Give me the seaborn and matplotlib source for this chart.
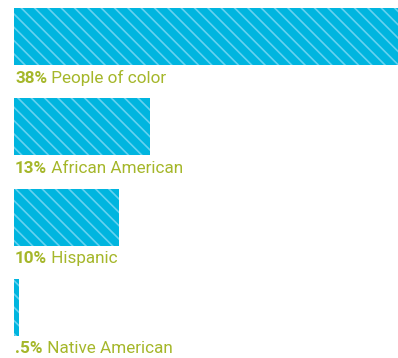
import matplotlib
matplotlib.use("Agg")
import matplotlib.pyplot as plt
import seaborn as sns
import pandas as pd

categories = ["People of color", "African American", "Hispanic", "Native American"]
values = [38, 13, 10, 0.5]
pct_labels = ["38%", "13%", "10%", ".5%"]

sns.set_theme(style="white")
plt.rcParams["font.family"] = ["Roboto", "DejaVu Sans"]
plt.rcParams["hatch.linewidth"] = 1.5

df = pd.DataFrame({"group": categories, "value": values})

DPI = 80
fig = plt.figure(figsize=(398 / DPI, 358 / DPI), dpi=DPI)
ax = fig.add_axes([14 / 398, 0, 384 / 398, 1])

sns.barplot(data=df, x="value", y="group", orient="h", color="#00b5df",
            saturation=1, width=0.63, ax=ax)
for p in ax.patches:
    p.set_hatch("\\\\")
    p.set_edgecolor("#66d2f0")
    p.set_linewidth(0)

ax.set_xlim(0, 36.7)
ax.set_ylim(3.56, -0.404)
ax.axis("off")

fs = 12.3 * 100 / DPI
text_color = "#a5b72a"
for i, (pct, cat) in enumerate(zip(pct_labels, categories)):
    t1 = ax.text(0.1, i + 0.46, pct, color=text_color, fontsize=fs,
                 fontweight="bold", va="center", ha="left")
    ax.annotate(" " + cat, xy=(1, 0), xycoords=t1, color=text_color,
                fontsize=fs, fontweight="normal", va="bottom", ha="left")

fig.savefig("out.png", dpi=DPI)
